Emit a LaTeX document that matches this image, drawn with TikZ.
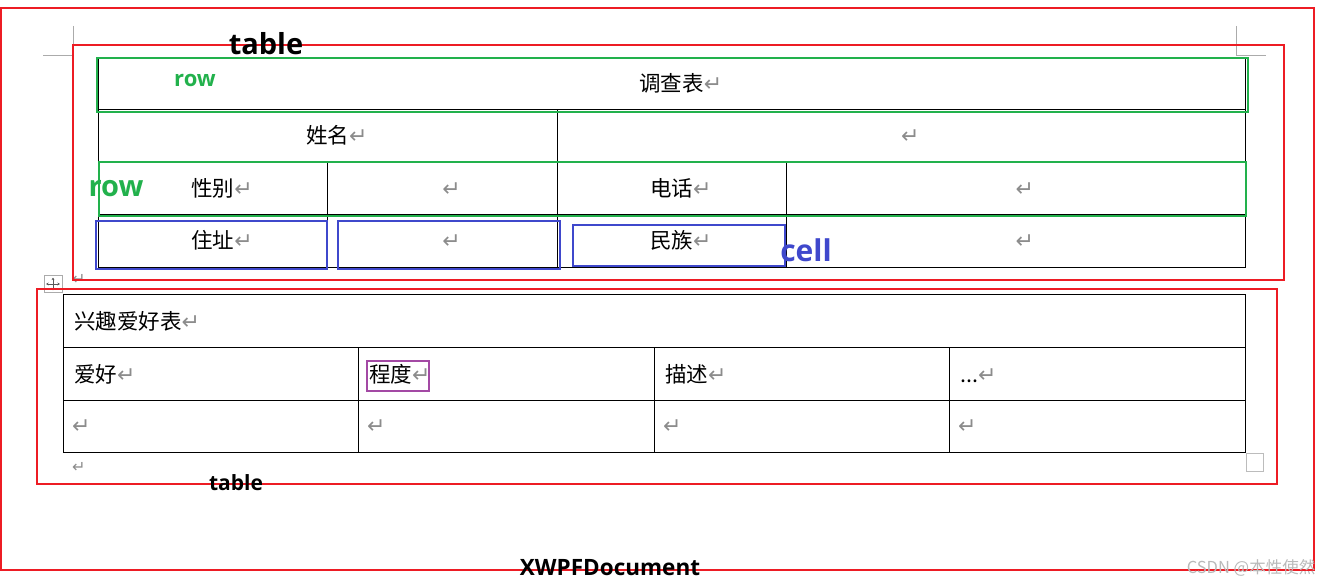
\documentclass[tikz,border=0pt]{standalone}
\usepackage{fontspec}
\setmainfont{Noto Sans CJK SC}
\newfontfamily\labfont{Open Sans}
\newfontfamily\symfont{DejaVu Sans}
\usetikzlibrary{arrows.meta}
\definecolor{annred}{HTML}{ED1C24}
\definecolor{anngreen}{HTML}{22B14C}
\definecolor{annblue}{HTML}{3F48CC}
\definecolor{annpurple}{HTML}{A349A4}
\definecolor{pmgray}{HTML}{8C8C8C}
\definecolor{guidegray}{HTML}{ABABAB}
\newcommand{\parmk}{{\color{pmgray}\symfont\fontsize{22}{22}\selectfont ↵}}
\newcommand{\parmks}{{\color{pmgray}\symfont\fontsize{16}{16}\selectfont ↵}}
\tikzset{
  cellbox/.style={draw=black, line width=0.8pt, inner sep=0pt, outer sep=0pt, anchor=north west},
  cjk/.style={font=\fontsize{21.5}{24}\selectfont, inner sep=0pt, anchor=base},
  cjkl/.style={font=\fontsize{21.5}{24}\selectfont, inner sep=0pt, anchor=base west},
  pm/.style={inner sep=0pt, anchor=base west},
  redbox/.style={draw=annred, line width=2pt},
  greenbox/.style={draw=anngreen, line width=2pt},
  bluebox/.style={draw=annblue, line width=2pt},
  purplebox/.style={draw=annpurple, line width=1.7pt},
  lab/.style={inner sep=0pt, anchor=base, font=\labfont\bfseries},
  guide/.style={draw=guidegray, line width=0.8pt},
}
\begin{document}
\begin{tikzpicture}[x=1pt, y=-1pt]
\useasboundingbox (0,0) rectangle (1334,585);
% guide corner marks
\draw[guide] (73,26) -- (73,55) -- (43,55);
\draw[guide] (1236,26) -- (1236,55) -- (1266,55);
% ---------- top table ----------
\node[cellbox, minimum width=1147pt, minimum height=52.5pt] (t11) at (98,57) {};
\node[cellbox, minimum width=459pt, minimum height=52.5pt] (t21) at (98,109.5) {};
\node[cellbox, minimum width=688pt, minimum height=52.5pt] (t22) at (557,109.5) {};
\node[cellbox, minimum width=229.5pt, minimum height=52.5pt] (t31) at (98,162) {};
\node[cellbox, minimum width=229.5pt, minimum height=52.5pt] (t32) at (327.5,162) {};
\node[cellbox, minimum width=229pt, minimum height=52.5pt] (t33) at (557,162) {};
\node[cellbox, minimum width=459pt, minimum height=52.5pt] (t34) at (786,162) {};
\node[cellbox, minimum width=229.5pt, minimum height=52.5pt] (t41) at (98,214.5) {};
\node[cellbox, minimum width=229.5pt, minimum height=52.5pt] (t42) at (327.5,214.5) {};
\node[cellbox, minimum width=229pt, minimum height=52.5pt] (t43) at (557,214.5) {};
\node[cellbox, minimum width=459pt, minimum height=52.5pt] (t44) at (786,214.5) {};
\node[cjk] (x11) at ([yshift=-8pt]t11.center) {调查表\rlap{\parmk}};
\node[cjk] (x21) at ([yshift=-8pt]t21.center) {姓名\rlap{\parmk}};
\node[pm] (x22) at ([yshift=-8pt]t22.center) {\parmk};
\node[cjk] (x31) at ([yshift=-8pt]t31.center) {性别\rlap{\parmk}};
\node[pm] (x32) at ([yshift=-8pt]t32.center) {\parmk};
\node[cjk] (x33) at ([yshift=-8pt]t33.center) {电话\rlap{\parmk}};
\node[pm] (x34) at ([yshift=-8pt]t34.center) {\parmk};
\node[cjk] (x41) at ([yshift=-8pt]t41.center) {住址\rlap{\parmk}};
\node[pm] (x42) at ([yshift=-8pt]t42.center) {\parmk};
\node[cjk] (x43) at ([yshift=-8pt]t43.center) {民族\rlap{\parmk}};
\node[pm] (x44) at ([yshift=-8pt]t44.center) {\parmk};
% paragraph between tables
\node[pm] (pbetween) at (72,285) {\parmks};
% move handle
\node[draw=guidegray, line width=0.8pt, minimum width=18pt, minimum height=17pt, inner sep=0pt] (handle) at (53,284) {};
\draw[gray!70!black, line width=0.6pt, {Stealth[length=2.5pt,width=3pt]}-{Stealth[length=2.5pt,width=3pt]}] ([yshift=-2.5pt]handle.north) -- ([yshift=2.5pt]handle.south);
\draw[gray!70!black, line width=0.6pt, {Stealth[length=2.5pt,width=3pt]}-{Stealth[length=2.5pt,width=3pt]}] ([xshift=2.5pt]handle.west) -- ([xshift=-2.5pt]handle.east);
% ---------- bottom table ----------
\node[cellbox, minimum width=1182pt, minimum height=53pt] (b11) at (63,294) {};
\node[cellbox, minimum width=295pt, minimum height=53pt] (b21) at (63,347) {};
\node[cellbox, minimum width=296pt, minimum height=53pt] (b22) at (358,347) {};
\node[cellbox, minimum width=295pt, minimum height=53pt] (b23) at (654,347) {};
\node[cellbox, minimum width=296pt, minimum height=53pt] (b24) at (949,347) {};
\node[cellbox, minimum width=295pt, minimum height=52pt] (b31) at (63,400) {};
\node[cellbox, minimum width=296pt, minimum height=52pt] (b32) at (358,400) {};
\node[cellbox, minimum width=295pt, minimum height=52pt] (b33) at (654,400) {};
\node[cellbox, minimum width=296pt, minimum height=52pt] (b34) at (949,400) {};
\node[cjkl] (y11) at ([xshift=11pt,yshift=-9pt]b11.west) {兴趣爱好表\parmk};
\node[cjkl] (y21) at ([xshift=11pt,yshift=-9pt]b21.west) {爱好\parmk};
\node[cjkl] (y22) at ([xshift=11pt,yshift=-9pt]b22.west) {程度\parmk};
\node[cjkl] (y23) at ([xshift=11pt,yshift=-9pt]b23.west) {描述\parmk};
\node[cjkl] (y24) at ([xshift=11pt,yshift=-9pt]b24.west) {...\parmk};
\node[pm] (y31) at ([xshift=9pt,yshift=-7pt]b31.west) {\parmk};
\node[pm] (y32) at ([xshift=9pt,yshift=-7pt]b32.west) {\parmk};
\node[pm] (y33) at ([xshift=9pt,yshift=-7pt]b33.west) {\parmk};
\node[pm] (y34) at ([xshift=9pt,yshift=-7pt]b34.west) {\parmk};
\node[pm] (pafter) at (72,472) {\parmks};
\node[draw=guidegray!80, line width=1pt, minimum width=17pt, minimum height=18pt, inner sep=0pt, anchor=north west] (resize) at (1246,453) {};
% ---------- annotations ----------
\draw[redbox] (1,8) rectangle (1314,570);
\draw[redbox] (73,45) rectangle (1284,280);
\draw[redbox] (37,289) rectangle (1277,484);
\draw[greenbox] (97,58) rectangle (1248,112);
\draw[greenbox] (99,162) rectangle (1246,216);
\draw[bluebox] (96,221) rectangle (327,269);
\draw[bluebox] (338,221) rectangle (560,269);
\draw[bluebox] (573,225) rectangle (785,266);
\draw[purplebox] (367,361) rectangle (429,391);
% labels
\node[lab, font=\labfont\bfseries\fontsize{29}{29}\selectfont] (ltab1) at (266,55) {table};
\node[lab, text=anngreen, font=\labfont\bfseries\fontsize{22}{22}\selectfont] (lrow1) at (195,87) {row};
\node[lab, text=anngreen, font=\labfont\bfseries\fontsize{29}{29}\selectfont] (lrow2) at (116,197) {row};
\node[lab, text=annblue, font=\labfont\bfseries\fontsize{30}{30}\selectfont] (lcell) at (806,262) {cell};
\node[lab, font=\labfont\bfseries\fontsize{21}{21}\selectfont] (ltab2) at (236,490) {table};
\node[lab, font=\labfont\bfseries\fontsize{22.5}{23}\selectfont] (ldoc) at (610,575) {XWPFDocument};
\node[inner sep=0pt, anchor=base, text=gray!55, font=\fontsize{16.5}{17}\selectfont] (wm) at (1251,573) {CSDN @本性使然};
\end{tikzpicture}
\end{document}
